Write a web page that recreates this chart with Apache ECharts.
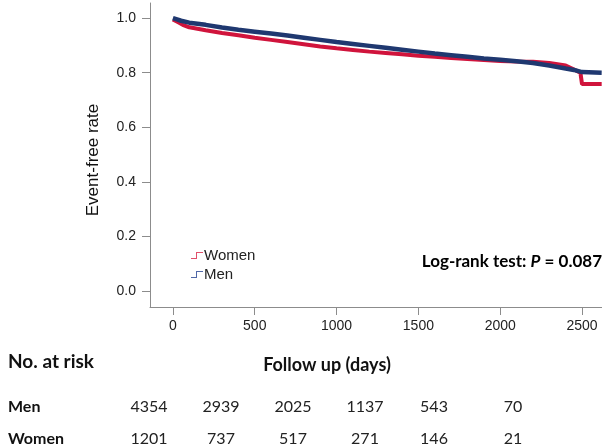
<!DOCTYPE html>
<html><head><meta charset="utf-8">
<script src="https://cdn.jsdelivr.net/npm/echarts@6/dist/echarts.min.js"></script>
<style>html,body{margin:0;padding:0;background:#fff}#c{width:602px;height:447px}</style>
</head><body><div id="c"></div>
<script>
const menDays   = [0, 25, 50, 100, 200, 300, 400, 500, 600, 700, 800, 900, 1000, 1100, 1200, 1300, 1400, 1500, 1600, 1700, 1800, 1900, 2000, 2100, 2200, 2300, 2400, 2450, 2500, 2620];
const menRate   = [1.0, 0.995, 0.99, 0.983, 0.975, 0.965, 0.957, 0.95, 0.943, 0.936, 0.928, 0.92, 0.912, 0.905, 0.898, 0.891, 0.884, 0.877, 0.87, 0.864, 0.858, 0.852, 0.847, 0.842, 0.835, 0.826, 0.815, 0.81, 0.802, 0.8];
const womenDays = [0, 30, 60, 100, 200, 300, 400, 500, 600, 700, 800, 900, 1000, 1100, 1200, 1300, 1400, 1500, 1600, 1700, 1800, 1900, 2000, 2100, 2200, 2300, 2400, 2490, 2500, 2620];
const womenRate = [0.995, 0.985, 0.975, 0.966, 0.955, 0.945, 0.937, 0.928, 0.92, 0.912, 0.904, 0.896, 0.889, 0.883, 0.877, 0.872, 0.867, 0.862, 0.858, 0.854, 0.85, 0.846, 0.843, 0.841, 0.84, 0.835, 0.826, 0.8, 0.758, 0.758];
const xTicks = [0, 500, 1000, 1500, 2000, 2500];
const yTicks = [0, 0.2, 0.4, 0.6, 0.8, 1.0];
const riskMen   = ['4354', '2939', '2025', '1137', '543', '70'];
const riskWomen = ['1201', '737', '517', '271', '146', '21'];
const riskCols  = [149, 221, 293, 365, 434, 513];

const chart = echarts.init(document.getElementById('c'));
const zip = (a, b) => a.map((v, i) => [v, b[i]]);
const axisGray = '#8c8c8c';
const sans = 'Arial, "Liberation Sans", sans-serif';
const stepIcon = 'path://M0,8 L5,8 L5,2 L12,2 L12,3 L6,3 L6,9 L0,9 Z';
const graphics = [
  {type:'text', left:8, top:352, style:{text:'No. at risk', fontFamily:'Lato', fontWeight:'bold', fontSize:19, fill:'#111'}},
  {type:'text', x:327, y:365, style:{text:'Follow up (days)', fontFamily:'Lato', fontWeight:'bold', fontSize:18, fill:'#111', align:'center', verticalAlign:'middle'}},
  {type:'text', x:602, y:262, style:{text:'{a|Log-rank test: }{b|P}{a| = 0.087}', align:'right', verticalAlign:'middle',
    rich:{a:{fontFamily:'Lato', fontWeight:'bold', fontSize:17, color:'#111'}, b:{fontFamily:'Lato', fontWeight:'bold', fontStyle:'italic', fontSize:17, color:'#111'}}}},
  {type:'text', x:93, y:160, rotation:Math.PI/2, style:{text:'Event-free rate', fontFamily:sans, fontSize:17, fill:'#111', align:'center', verticalAlign:'middle'}},
  {type:'text', left:8, y:407, style:{text:'Men', fontFamily:'Lato', fontWeight:'bold', fontSize:16, fill:'#111', verticalAlign:'middle'}},
  {type:'text', left:8, y:439, style:{text:'Women', fontFamily:'Lato', fontWeight:'bold', fontSize:16, fill:'#111', verticalAlign:'middle'}}
];
riskCols.forEach((x, i) => {
  graphics.push({type:'text', x:x, y:407, style:{text:riskMen[i], fontFamily:'Lato', fontSize:16, fill:'#222', align:'center', verticalAlign:'middle'}});
  graphics.push({type:'text', x:x, y:439, style:{text:riskWomen[i], fontFamily:'Lato', fontSize:16, fill:'#222', align:'center', verticalAlign:'middle'}});
});

chart.setOption({
  animation:false,
  backgroundColor:'#fff',
  grid:{left:150, right:0, top:3, bottom:140, containLabel:false},
  xAxis:{type:'value', min:-140, max:2622,
    axisLine:{show:true, onZero:false, lineStyle:{color:axisGray, width:1}},
    axisTick:{show:true, length:8, lineStyle:{color:axisGray}, customValues:xTicks},
    axisLabel:{margin:12, fontFamily:sans, fontSize:14, color:'#222', customValues:xTicks, formatter:v => String(v)},
    splitLine:{show:false}},
  yAxis:{type:'value', min:-0.058, max:1.055,
    axisLine:{show:true, onZero:false, lineStyle:{color:axisGray, width:1}},
    axisTick:{show:true, length:8, lineStyle:{color:axisGray}, customValues:yTicks},
    axisLabel:{margin:14, fontFamily:sans, fontSize:14, color:'#222', customValues:yTicks, formatter:v => v.toFixed(1)},
    splitLine:{show:false}},
  legend:{orient:'vertical', left:186, top:243, itemGap:4, itemWidth:12, itemHeight:9,
    data:[{name:'Women', icon:stepIcon}, {name:'Men', icon:stepIcon}],
    textStyle:{fontFamily:sans, fontSize:15, color:'#222', padding:[0,0,0,-4]}},
  series:[
    {name:'Women', type:'line', showSymbol:false, data:zip(womenDays, womenRate), z:2,
      lineStyle:{color:'#d0143c', width:4}, itemStyle:{color:'#e0506c'}},
    {name:'Men', type:'line', showSymbol:false, data:zip(menDays, menRate), z:3,
      lineStyle:{color:'#1f3870', width:4.5}, itemStyle:{color:'#5068a8'}}
  ],
  graphic:graphics
});
</script></body></html>
